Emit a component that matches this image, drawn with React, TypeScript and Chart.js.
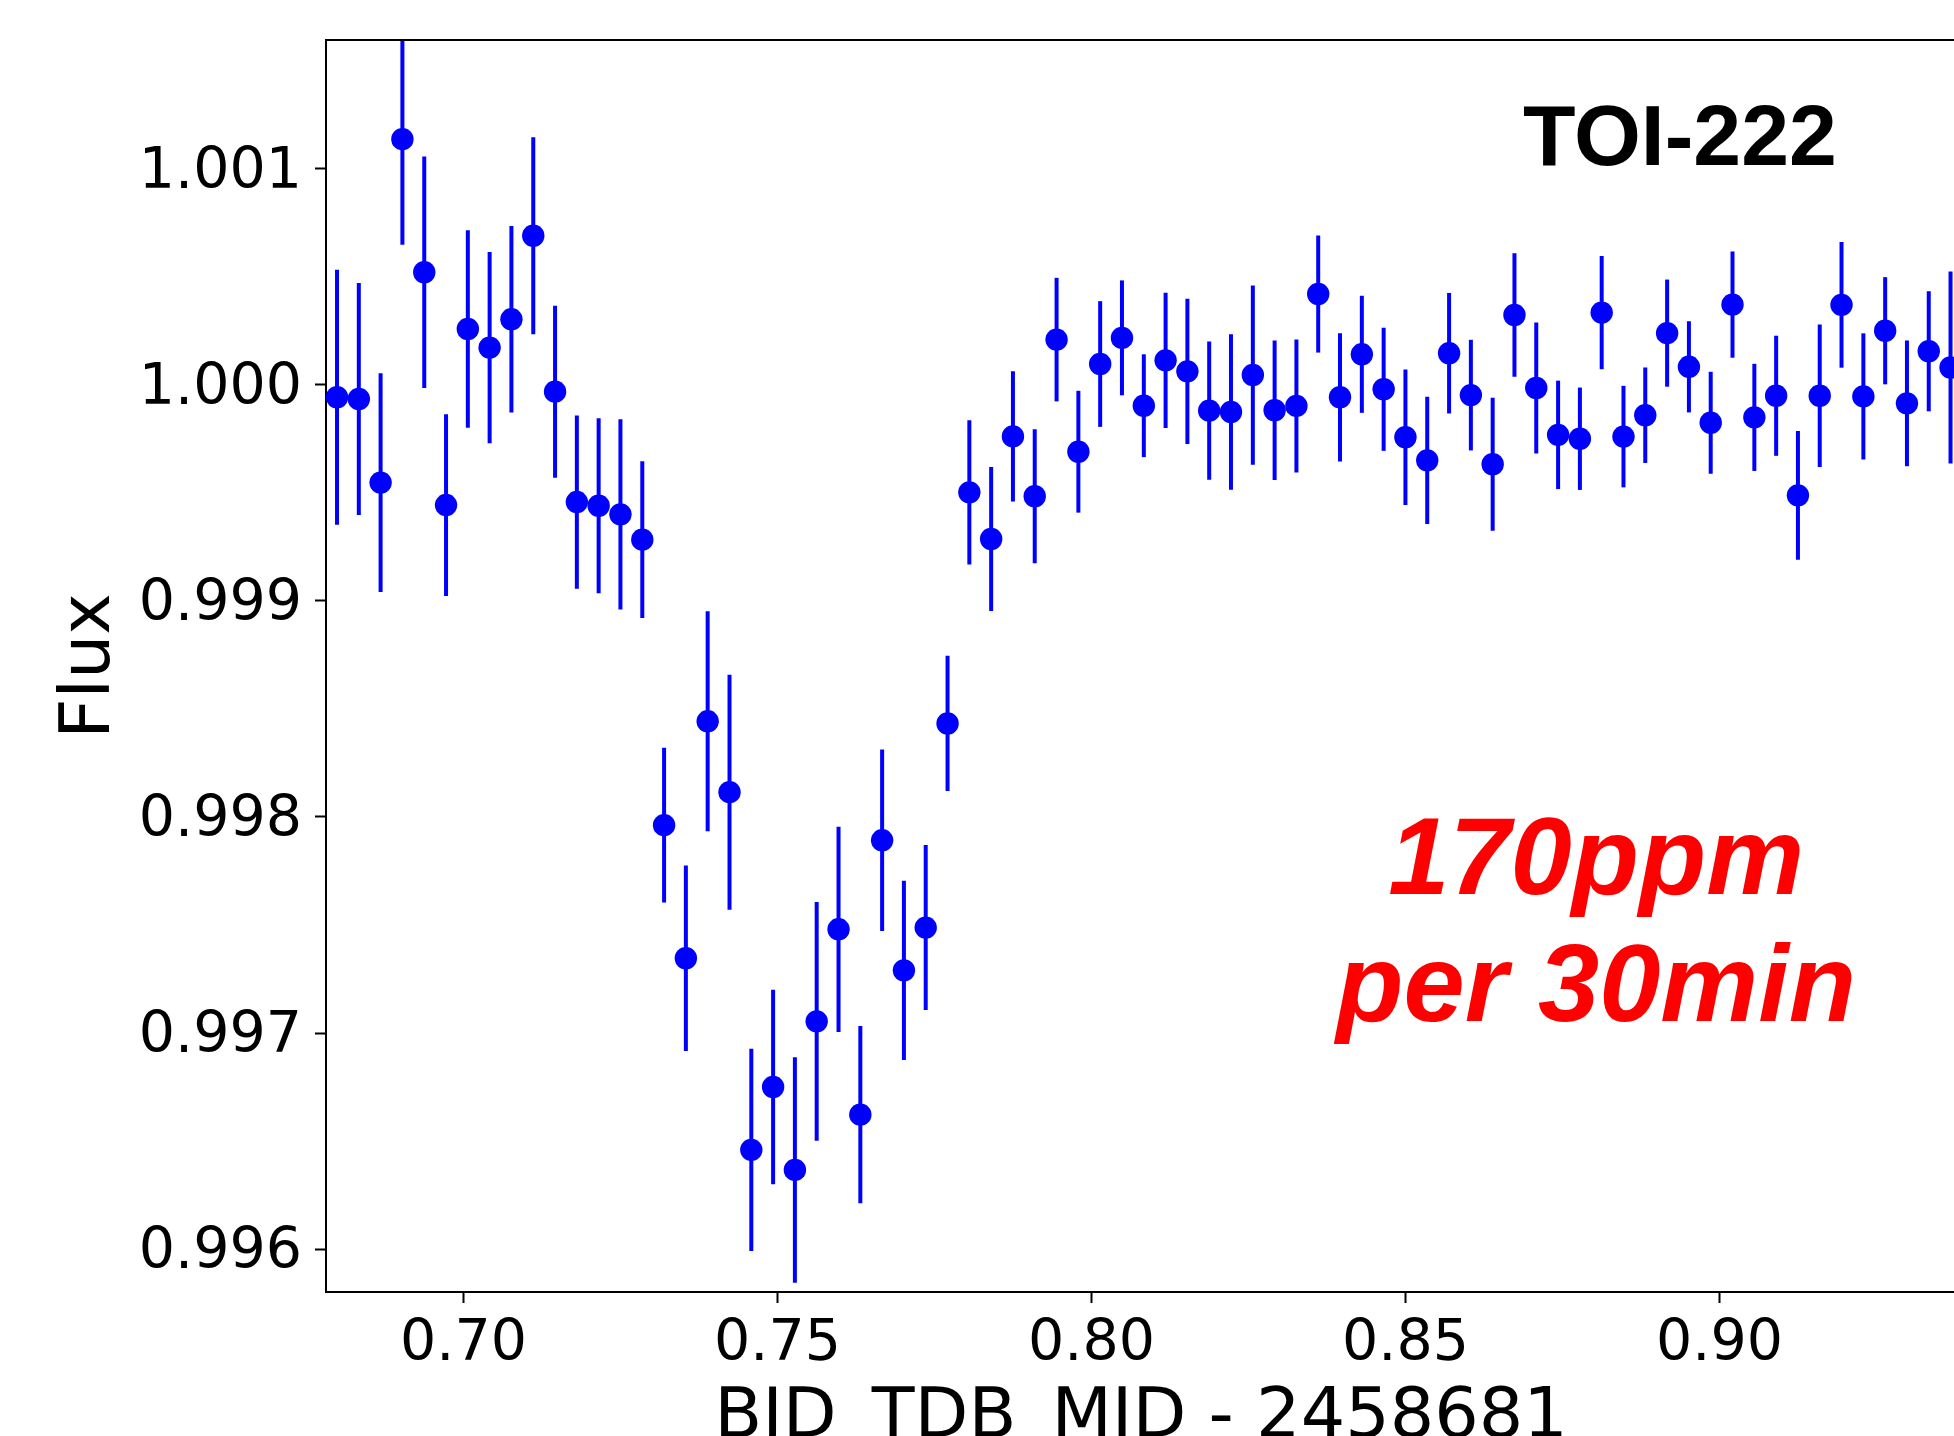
import React, { useEffect, useRef } from "react";
import { Chart, registerables } from "chart.js";

Chart.register(...registerables);

// Time (BJD_TDB_MID - 2458681)
const timeValues = [
  0.67986, 0.68333, 0.6868, 0.69027, 0.69375, 0.69722, 0.70069, 0.70416, 0.70763, 0.71111,
  0.71458, 0.71805, 0.72152, 0.72499, 0.72847, 0.73194, 0.73541, 0.73888, 0.74236, 0.74583,
  0.7493, 0.75277, 0.75624, 0.75972, 0.76319, 0.76666, 0.77013, 0.7736, 0.77708, 0.78055,
  0.78402, 0.78749, 0.79096, 0.79444, 0.79791, 0.80138, 0.80485, 0.80833, 0.8118, 0.81527,
  0.81874, 0.82221, 0.82569, 0.82916, 0.83263, 0.8361, 0.83957, 0.84305, 0.84652, 0.84999,
  0.85346, 0.85694, 0.86041, 0.86388, 0.86735, 0.87082, 0.8743, 0.87777, 0.88124, 0.88471,
  0.88818, 0.89166, 0.89513, 0.8986, 0.90207, 0.90555, 0.90902, 0.91249, 0.91596, 0.91943,
  0.92291, 0.92638, 0.92985, 0.93332, 0.93679,
];

// Normalised flux
const fluxValues = [
  0.999943, 0.999935, 0.999548, 1.001138, 1.000522, 0.999444, 1.000259, 1.000173, 1.000304, 1.000691,
  0.999969, 0.999458, 0.999441, 0.999401, 0.999284, 0.997962, 0.997346, 0.998443, 0.998115, 0.996459,
  0.99675, 0.996366, 0.997054, 0.99748, 0.996622, 0.997892, 0.99729, 0.997488, 0.998433, 0.999503,
  0.999287, 0.999762, 0.999485, 1.00021, 0.999691, 1.000097, 1.000218, 0.999904, 1.000114, 1.000063,
  0.999881, 0.999875, 1.000046, 0.999883, 0.999903, 1.000421, 0.999943, 1.000142, 0.99998, 0.999758,
  0.999651, 1.000147, 0.999953, 0.999633, 1.000324, 0.999986, 0.999769, 0.999751, 1.000335, 0.999761,
  0.99986, 1.00024, 1.000084, 0.999825, 1.000372, 0.99985, 0.99995, 0.999489, 0.99995, 1.000371,
  0.999947, 1.000251, 0.999915, 1.000156, 1.000081,
];

// 1-sigma flux errors
const fluxErrors = [
  0.00059, 0.000537, 0.000506, 0.000489, 0.000536, 0.000421, 0.000457, 0.000443, 0.000432, 0.000456,
  0.000398, 0.000401, 0.000405, 0.00044, 0.000363, 0.000358, 0.000429, 0.000509, 0.000544, 0.000468,
  0.00045, 0.000522, 0.000553, 0.000475, 0.00041, 0.00042, 0.000415, 0.000382, 0.000313, 0.000334,
  0.000333, 0.000301, 0.00031, 0.000286, 0.000282, 0.000291, 0.000266, 0.000238, 0.000313, 0.000336,
  0.00032, 0.00036, 0.000415, 0.000323, 0.000308, 0.000271, 0.000297, 0.000271, 0.000285, 0.000314,
  0.000295, 0.000279, 0.000256, 0.000308, 0.000286, 0.000303, 0.000251, 0.000237, 0.000262, 0.000235,
  0.000221, 0.000248, 0.000211, 0.000236, 0.000246, 0.000248, 0.000278, 0.000298, 0.00033, 0.000291,
  0.000292, 0.000248, 0.000291, 0.000278, 0.000444,
];

const xTickValues = [0.7, 0.75, 0.8, 0.85, 0.9];
const yTickValues = [0.996, 0.997, 0.998, 0.999, 1.0, 1.001];
const xRange = [0.678105, 0.937341];
const yRange = [0.995801, 1.001597];

const xAxisTitle = "BJD_TDB_MID - 2458681";
const yAxisTitle = "Flux";
const targetLabel = "TOI-222";
const noteLines = ["170ppm", "per 30min"];

const BLUE = "#0000ff";
const TICK_FONT = "'DejaVu Sans', sans-serif";

const zeroPadding = (s: any) => {
  s.paddingTop = 0;
  s.paddingBottom = 0;
  s.paddingLeft = 0;
  s.paddingRight = 0;
};

const errorBarPlugin = {
  id: "errorBars",
  beforeDatasetsDraw(chart: any) {
    const { ctx, chartArea, scales } = chart;
    const xs = scales.x;
    const ys = scales.y;
    ctx.save();
    ctx.beginPath();
    ctx.rect(chartArea.left, chartArea.top, chartArea.right - chartArea.left, chartArea.bottom - chartArea.top);
    ctx.clip();
    ctx.strokeStyle = BLUE;
    ctx.lineWidth = 4;
    ctx.lineCap = "butt";
    timeValues.forEach((t, i) => {
      const px = xs.getPixelForValue(t);
      const yLo = ys.getPixelForValue(fluxValues[i] - fluxErrors[i]);
      const yHi = ys.getPixelForValue(fluxValues[i] + fluxErrors[i]);
      ctx.beginPath();
      ctx.moveTo(px, yLo);
      ctx.lineTo(px, yHi);
      ctx.stroke();
    });
    ctx.restore();
  },
};

const decorPlugin = {
  id: "decor",
  afterDraw(chart: any) {
    const { ctx, chartArea, scales } = chart;
    const xs = scales.x;
    const ys = scales.y;
    ctx.save();
    // top spine
    ctx.strokeStyle = "#000";
    ctx.lineWidth = 2;
    ctx.beginPath();
    ctx.moveTo(chartArea.left, chartArea.top);
    ctx.lineTo(chartArea.right, chartArea.top);
    ctx.stroke();

    // axis titles
    ctx.fillStyle = "#000";
    ctx.font = `70px ${TICK_FONT}`;
    ctx.textAlign = "center";
    ctx.textBaseline = "alphabetic";
    ctx.fillText(xAxisTitle, 1141, 1437);

    ctx.save();
    ctx.translate(109, (chartArea.top + chartArea.bottom) / 2);
    ctx.rotate(-Math.PI / 2);
    ctx.fillText(yAxisTitle, 0, 0);
    ctx.restore();

    // target label
    ctx.font = "bold 86px 'Liberation Sans', Arial, sans-serif";
    ctx.textAlign = "left";
    ctx.fillText(targetLabel, xs.getPixelForValue(0.8687), ys.getPixelForValue(1.001019));

    // precision note
    ctx.fillStyle = "#ff0000";
    ctx.font = "italic bold 110px 'Liberation Sans', Arial, sans-serif";
    ctx.textAlign = "center";
    const cx = xs.getPixelForValue(0.88035);
    ctx.fillText(noteLines[0], cx, ys.getPixelForValue(0.997644));
    ctx.fillText(noteLines[1], cx, ys.getPixelForValue(0.997056));
    ctx.restore();
  },
};

export default function App() {
  const canvasRef = useRef<HTMLCanvasElement | null>(null);

  useEffect(() => {
    const canvas = canvasRef.current;
    if (!canvas) return;
    const chart = new Chart(canvas, {
      type: "scatter",
      data: {
        datasets: [
          {
            data: timeValues.map((t, i) => ({ x: t, y: fluxValues[i] })),
            backgroundColor: BLUE,
            borderColor: BLUE,
            borderWidth: 0,
            pointRadius: 11.2,
            pointHoverRadius: 11.2,
          },
        ],
      },
      options: {
        animation: false,
        responsive: false,
        devicePixelRatio: 1,
        events: [],
        layout: { autoPadding: false, padding: { top: 40, left: 0, right: 0, bottom: 0 } },
        plugins: {
          legend: { display: false },
          tooltip: { enabled: false },
          title: { display: false },
        },
        scales: {
          x: {
            type: "linear",
            position: "bottom",
            min: xRange[0],
            max: xRange[1],
            afterBuildTicks: (s: any) => {
              s.ticks = xTickValues.map((v) => ({ value: v }));
            },
            afterFit: (s: any) => {
              s.height = 144;
              zeroPadding(s);
            },
            ticks: {
              font: { family: TICK_FONT, size: 57 },
              color: "#000",
              padding: 8,
              maxRotation: 0,
              autoSkip: false,
              callback: (v: any) => Number(v).toFixed(2),
            },
            grid: {
              display: true,
              drawOnChartArea: false,
              drawTicks: true,
              tickLength: 11,
              tickWidth: 2,
              tickColor: "#000",
            },
            border: { display: true, color: "#000", width: 2 },
          },
          y: {
            type: "linear",
            position: "left",
            min: yRange[0],
            max: yRange[1],
            afterBuildTicks: (s: any) => {
              s.ticks = yTickValues.map((v) => ({ value: v }));
            },
            afterFit: (s: any) => {
              s.width = 326;
              zeroPadding(s);
            },
            ticks: {
              font: { family: TICK_FONT, size: 57 },
              color: "#000",
              padding: 13,
              labelOffset: 4,
              autoSkip: false,
              callback: (v: any) => Number(v).toFixed(3),
            },
            grid: {
              display: true,
              drawOnChartArea: false,
              drawTicks: true,
              tickLength: 11,
              tickWidth: 2,
              tickColor: "#000",
            },
            border: { display: true, color: "#000", width: 2 },
          },
        },
      },
      plugins: [errorBarPlugin, decorPlugin],
    });
    return () => chart.destroy();
  }, []);

  return (
    <div
      style={{
        position: "fixed",
        left: 0,
        top: 0,
        width: 1954,
        height: 1436,
        background: "#ffffff",
        overflow: "hidden",
      }}
    >
      <canvas ref={canvasRef} width={1954} height={1436} style={{ display: "block" }} />
    </div>
  );
}
